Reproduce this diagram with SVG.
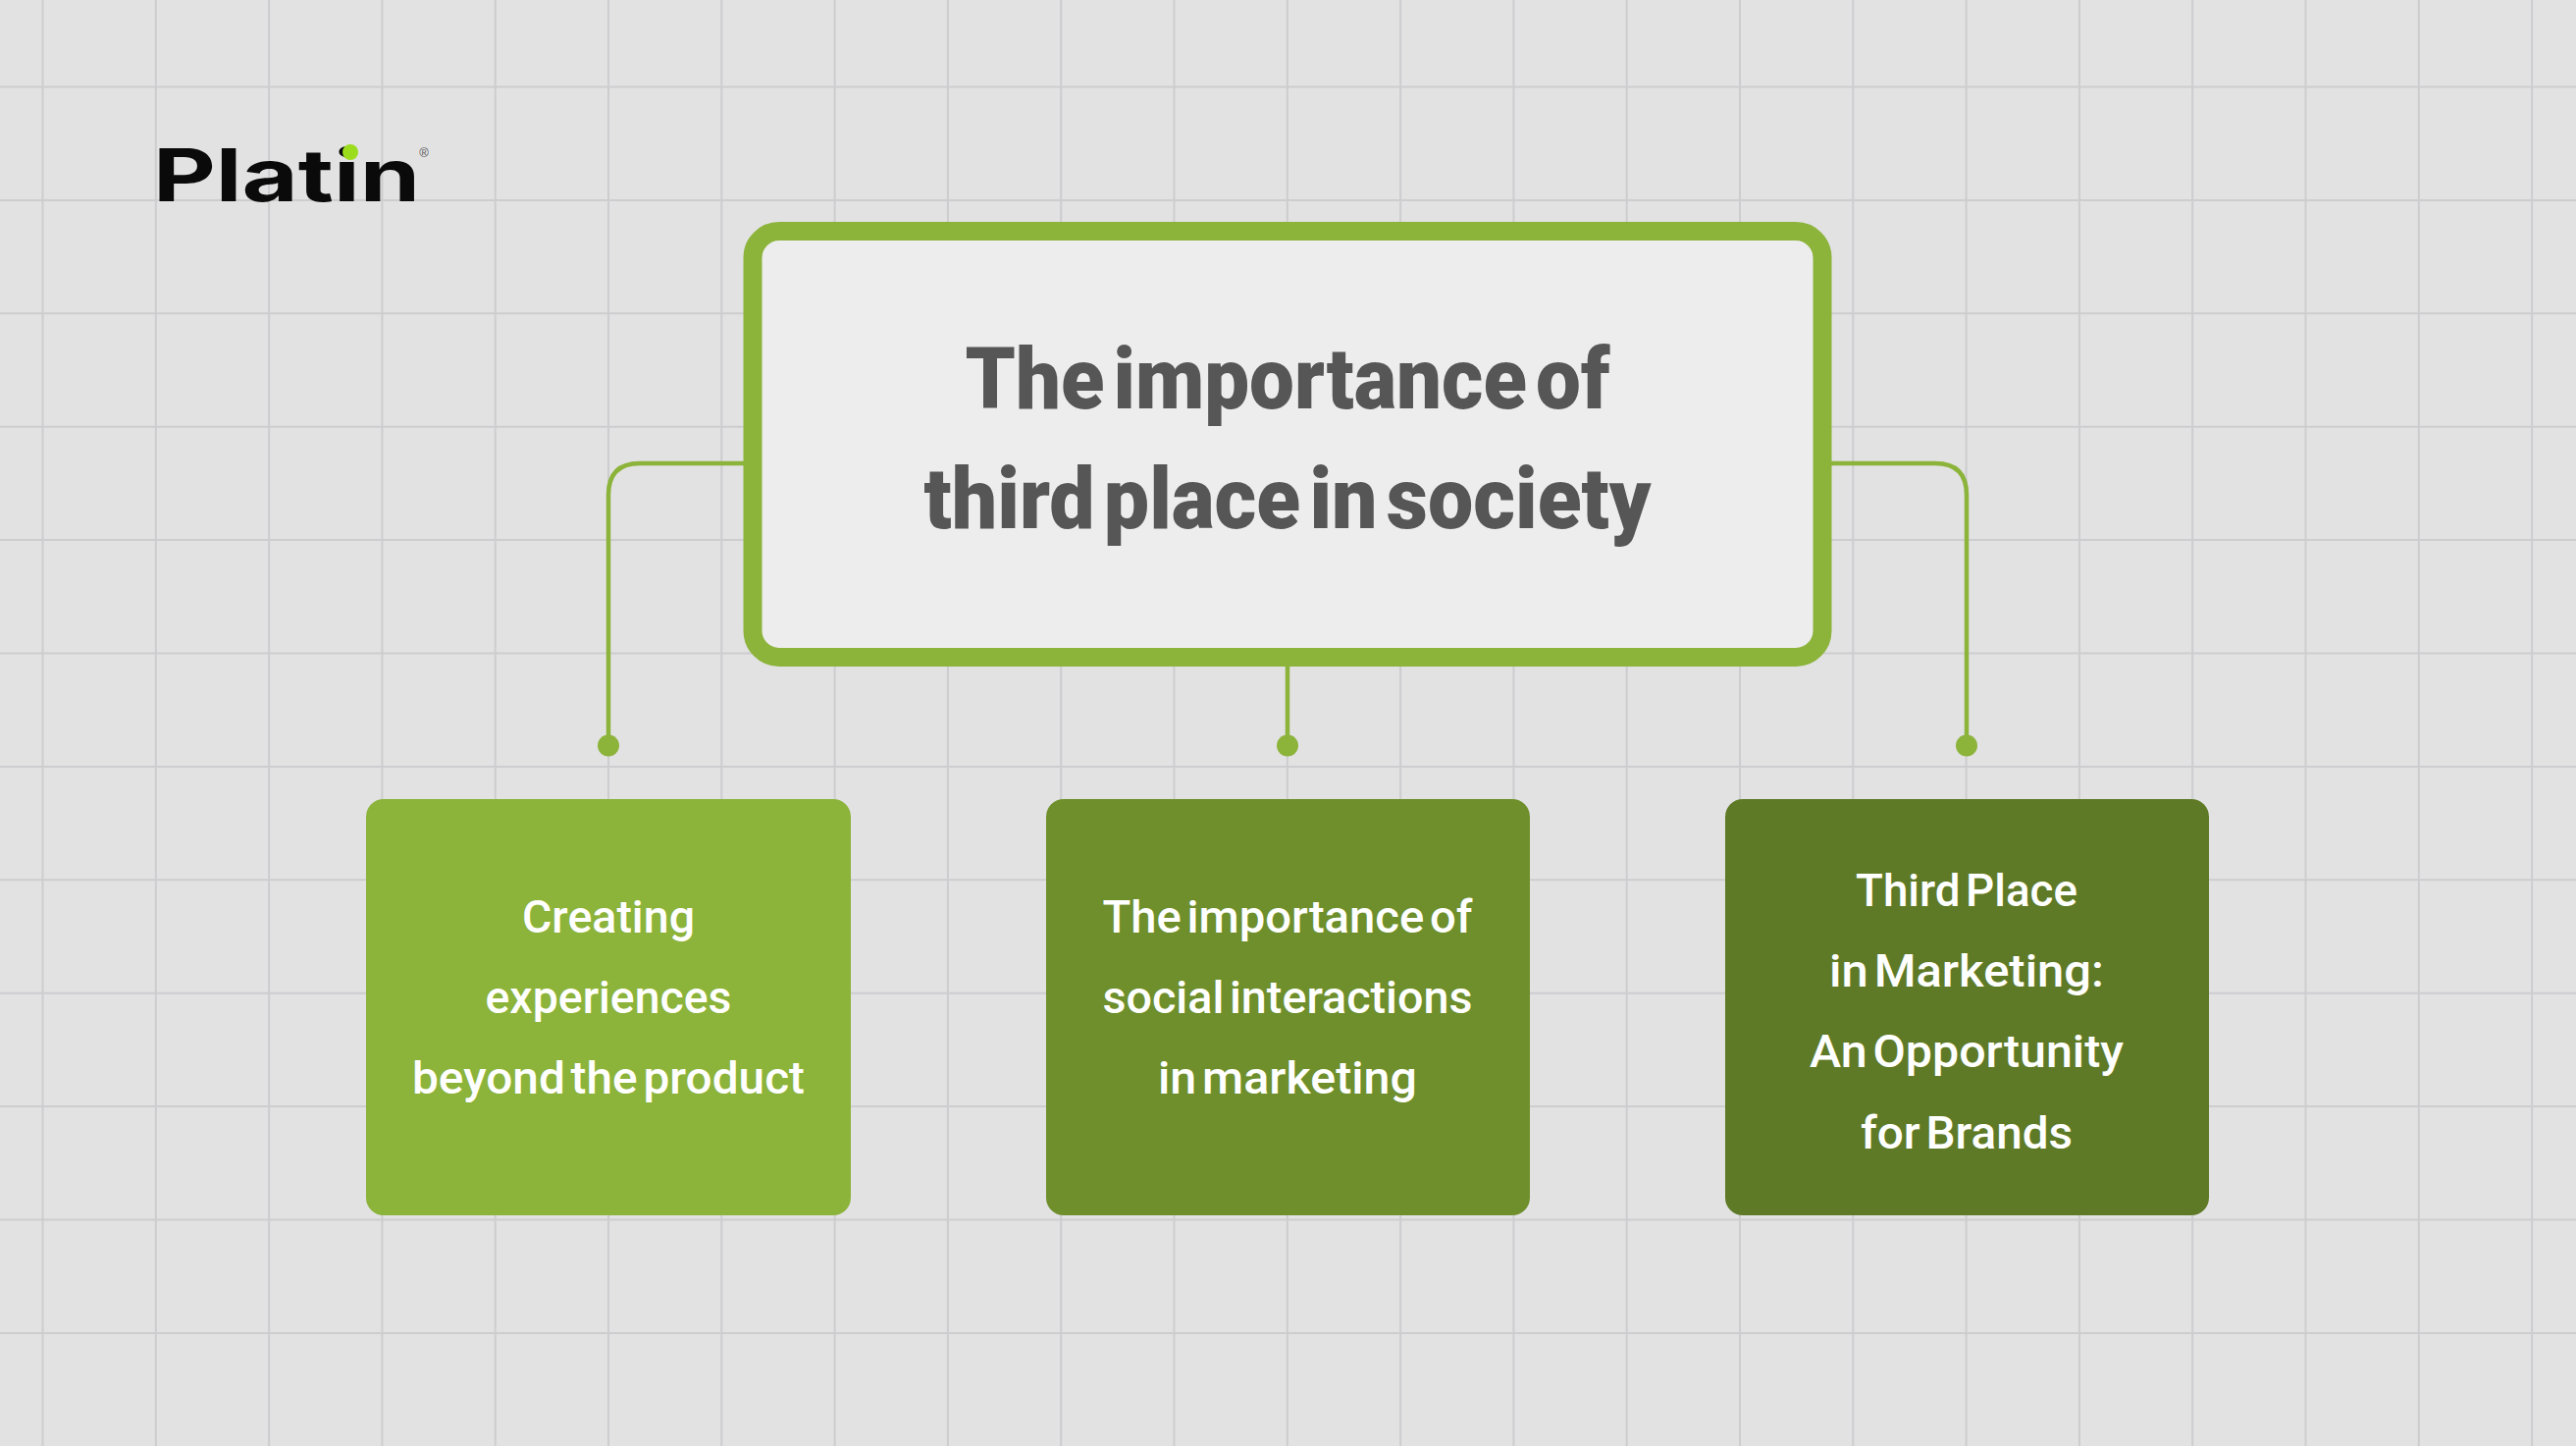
<svg xmlns="http://www.w3.org/2000/svg" width="2625" height="1473" viewBox="0 0 2625 1473">
<style>
.grid{fill:none;stroke:#cdcdcf;stroke-width:2}
.conn{fill:none;stroke:#8cb33a;stroke-width:4.5}
.dot{fill:#8cb33a}
.title{font-family:Roboto,"Liberation Sans",sans-serif;font-weight:900;font-size:88px;fill:#565656;text-anchor:middle;word-spacing:-12px}
.card{font-family:Roboto,"Liberation Sans",sans-serif;font-weight:500;font-size:47px;fill:#fff;text-anchor:middle;word-spacing:-6px}
.logo{font-family:Inter,"DejaVu Sans",sans-serif;font-weight:700;font-size:74px;fill:#0a0a0a}
</style>
<rect width="2625" height="1473" fill="#e2e2e3"/>
<path class="grid" d="M43.5 0V1473M158.8 0V1473M274.1 0V1473M389.4 0V1473M504.7 0V1473M620 0V1473M735.3 0V1473M850.6 0V1473M965.9 0V1473M1081.2 0V1473M1196.5 0V1473M1311.8 0V1473M1427.1 0V1473M1542.4 0V1473M1657.7 0V1473M1773 0V1473M1888.3 0V1473M2003.6 0V1473M2118.9 0V1473M2234.2 0V1473M2349.5 0V1473M2464.8 0V1473M2580.1 0V1473M0 88.5H2625M0 203.9H2625M0 319.3H2625M0 434.7H2625M0 550.1H2625M0 665.5H2625M0 780.9H2625M0 896.3H2625M0 1011.7H2625M0 1127.1H2625M0 1242.5H2625M0 1357.9H2625"/>
<g id="connectors">
<path class="conn" d="M760 472H652Q620 472 620 504V759"/>
<path class="conn" d="M1864 472H1972Q2004 472 2004 504V759"/>
<path class="conn" d="M1312 676V759"/>
<circle class="dot" cx="620" cy="759.5" r="11"/>
<circle class="dot" cx="1312" cy="759.5" r="11"/>
<circle class="dot" cx="2004" cy="759.5" r="11"/>
</g>
<g id="logo">
<text class="logo" x="156" y="205" textLength="272" lengthAdjust="spacingAndGlyphs">Platin</text>
<circle cx="357" cy="155" r="8" fill="#9bdc1c"/>
<text x="432" y="160" font-family="Liberation Sans,sans-serif" font-size="13" fill="#555" text-anchor="middle">®</text>
</g>
<g id="node-main">
<rect x="767" y="235.5" width="1090" height="434" rx="27" fill="#ededed" stroke="#8cb33a" stroke-width="19"/>
<text class="title" x="1312" y="416" textLength="657" lengthAdjust="spacingAndGlyphs">The importance of</text>
<text class="title" x="1312" y="538" textLength="741" lengthAdjust="spacingAndGlyphs">third place in society</text>
</g>
<g id="node-creating">
<rect x="373" y="814" width="494" height="424" rx="18" fill="#8cb33a"/>
<text class="card" x="620" y="950" textLength="176" lengthAdjust="spacingAndGlyphs">Creating</text>
<text class="card" x="620" y="1032" textLength="251" lengthAdjust="spacingAndGlyphs">experiences</text>
<text class="card" x="620" y="1114" textLength="400" lengthAdjust="spacingAndGlyphs">beyond the product</text>
</g>
<g id="node-social">
<rect x="1066" y="814" width="493" height="424" rx="18" fill="#6e8f2b"/>
<text class="card" x="1312" y="950" textLength="377" lengthAdjust="spacingAndGlyphs">The importance of</text>
<text class="card" x="1312" y="1032" textLength="377" lengthAdjust="spacingAndGlyphs">social interactions</text>
<text class="card" x="1312" y="1114" textLength="264" lengthAdjust="spacingAndGlyphs">in marketing</text>
</g>
<g id="node-third-place">
<rect x="1758" y="814" width="493" height="424" rx="18" fill="#5f7a26"/>
<text class="card" x="2004" y="923" textLength="226" lengthAdjust="spacingAndGlyphs">Third Place</text>
<text class="card" x="2004" y="1005" textLength="280" lengthAdjust="spacingAndGlyphs">in Marketing:</text>
<text class="card" x="2004" y="1087" textLength="320" lengthAdjust="spacingAndGlyphs">An Opportunity</text>
<text class="card" x="2004" y="1170" textLength="216" lengthAdjust="spacingAndGlyphs">for Brands</text>
</g>
</svg>
